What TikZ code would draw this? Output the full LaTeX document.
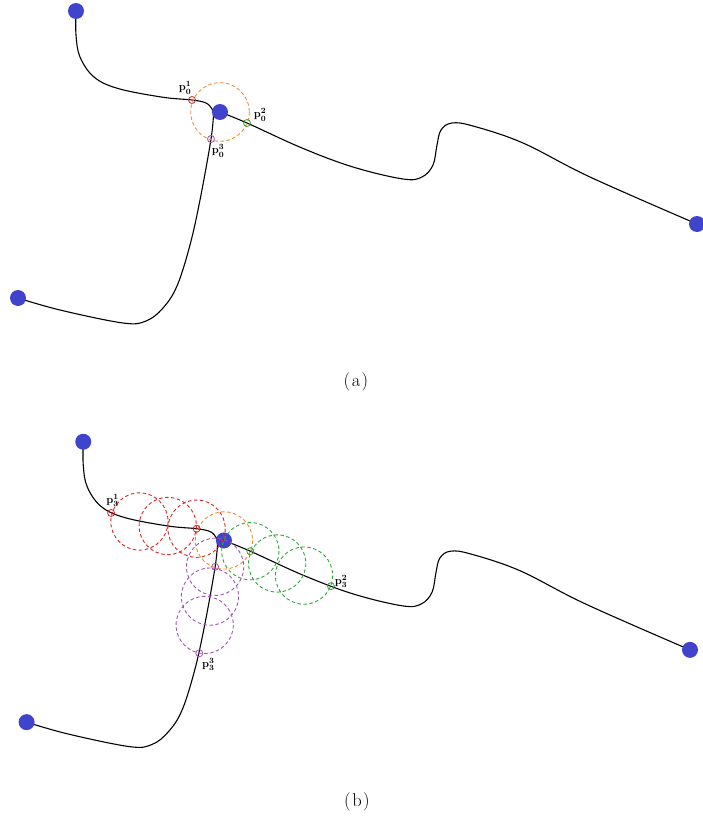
\documentclass[tikz,border=0pt]{standalone}
\definecolor{dotblue}{RGB}{64,68,204}
\definecolor{cOrange}{RGB}{240,140,50}
\definecolor{cRed}{RGB}{214,40,40}
\definecolor{cGreen}{RGB}{50,165,60}
\definecolor{cPurple}{RGB}{160,85,175}
\newcommand\curvesAll{%
  \draw[curve] plot[smooth,tension=0.6] coordinates {(76,11) (76,35) (80,57) (94,77) (118,88.5) (162.5,97.2) (192,100) (206,103) (212,109) (213.5,114)};
  \draw[curve] plot[smooth,tension=0.6] coordinates {(220,112) (247,123) (302,148) (353,167) (403,179) (422,177) (433,165) (437,145) (441,130) (452,123) (473,126) (523,143) (590,177) (697,224)};
  \draw[curve] plot[smooth,tension=0.6] coordinates {(18,298) (60,310) (123,323) (146,321) (163,308) (177,286) (190,245) (200.3,198.5) (211,139) (213.5,114)};
}
\begin{document}
\begin{tikzpicture}[x=1pt,y=-1pt,
  curve/.style={black, line width=1.1pt},
  enddot/.style={circle, fill=dotblue, inner sep=0pt, minimum size=16pt},
  ring/.style={dash pattern=on 3.5pt off 2.5pt, line width=0.9pt},
  marker/.style={circle, draw, line width=0.8pt, inner sep=0pt, minimum size=7pt},
  plabel/.style={font=\fontsize{11}{12}\selectfont\boldmath, inner sep=0pt},
  caption/.style={font=\fontsize{18.5}{22}\selectfont}]
\useasboundingbox (0,0) rectangle (702,819);
% ---------- panel (a) ----------
\curvesAll
\node[enddot] (a1) at (76,11) {};
\node[enddot] (a2) at (697,224) {};
\node[enddot] (a3) at (18,298) {};
\node[enddot] (ac) at (220,112) {};
\draw[ring, cOrange] (ac.center) circle[radius=29.3];
\node[marker, cRed] (ap01) at (192,100) {};
\node[marker, cGreen] (ap02) at (247,123) {};
\node[marker, cPurple] (ap03) at (211,139) {};
\node[plabel] (la1) at (185,88) {$\mathbf{p}_0^1$};
\node[plabel] (la2) at (260,115) {$\mathbf{p}_0^2$};
\node[plabel] (la3) at (218,151) {$\mathbf{p}_0^3$};
\node[caption] (capa) at (356,382) {(\kern1.5pt a\kern1.5pt)};
% ---------- panel (b) ----------
\begin{scope}[shift={(9,431)}, scale=0.977]
\curvesAll
\node[enddot] (b1) at (76,11) {};
\node[enddot] (b2) at (697,224) {};
\node[enddot] (b3) at (18,298) {};
\node[enddot] (bc) at (220,112) {};
\draw[ring, cOrange] (bc.center) circle[radius=29.3];
\draw[ring, cRed] (192,100) circle[radius=29.3] (162.5,97.2) circle[radius=29.3] (133.5,92.6) circle[radius=29.3];
\draw[ring, cGreen] (247,123) circle[radius=29.3] (274.5,135.6) circle[radius=29.3] (302,148) circle[radius=29.3];
\draw[ring, cPurple] (211,139) circle[radius=29.3] (205.7,169.5) circle[radius=29.3] (200.3,198.5) circle[radius=29.3];
\node[marker, cRed] (bp01) at (192,100) {};
\node[marker, cRed] (bp31) at (104.5,83.9) {};
\node[marker, cGreen] (bp02) at (247,123) {};
\node[marker, cGreen] (bp32) at (329.5,158.8) {};
\node[marker, cPurple] (bp03) at (211,139) {};
\node[marker, cPurple] (bp33) at (194.8,227.5) {};
\node[plabel] (lb1) at (106,71) {$\mathbf{p}_3^1$};
\node[plabel] (lb2) at (340,154) {$\mathbf{p}_3^2$};
\node[plabel] (lb3) at (204,239) {$\mathbf{p}_3^3$};
\end{scope}
\node[caption] (capb) at (357,802) {(\kern1.5pt b\kern1.5pt)};
\end{tikzpicture}
\end{document}
